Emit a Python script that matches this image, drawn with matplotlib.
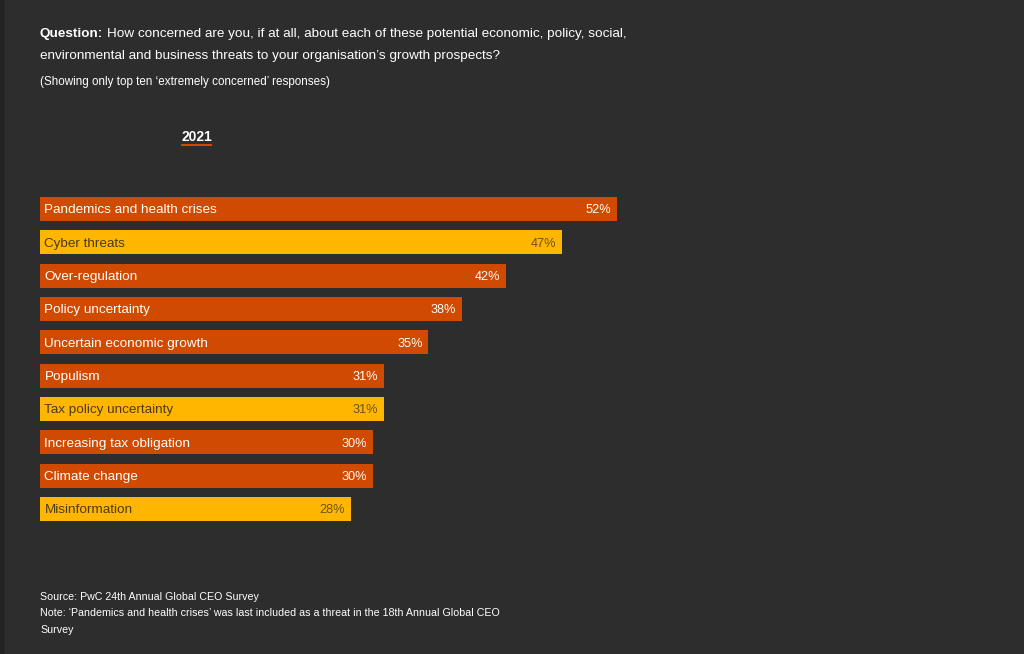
import matplotlib as mpl
import matplotlib.pyplot as plt
from matplotlib.patches import Rectangle

threats = ['Pandemics and health crises', 'Cyber threats', 'Over-regulation',
           'Policy uncertainty', 'Uncertain economic growth', 'Populism',
           'Tax policy uncertainty', 'Increasing tax obligation',
           'Climate change', 'Misinformation']
values = [52, 47, 42, 38, 35, 31, 31, 30, 30, 28]
highlight = [False, True, False, False, False, False, True, False, False, True]

bg = '#2d2d2d'
orange = '#d04a02'
yellow = '#ffb600'

plt.rcParams['font.family'] = ['Liberation Sans', 'DejaVu Sans']

fig = plt.figure(figsize=(10.24, 6.54), dpi=100, facecolor=bg)
fig.patches.append(Rectangle((0, 0), 5 / 1024, 1, transform=fig.transFigure,
                             facecolor='#242424', edgecolor='none'))

W, H = 1024, 654
ax = fig.add_axes([40 / W, (H - 521) / H, (617 - 40) / W, 324 / H])
ax.set_facecolor(bg)
ypos = list(range(len(threats)))
cols = [yellow if h else orange for h in highlight]
ax.barh(ypos, values, height=0.72, color=cols)
ax.set_xlim(0, 52)
ax.set_ylim(9.36, -0.36)
ax.axis('off')

for y, name, v, h in zip(ypos, threats, values, highlight):
    tc = '#4a3b10' if h else 'white'
    pc = '#6b5410' if h else 'white'
    ax.text(0.4, y + 0.04, name, color=tc, fontsize=9.7, va='center', ha='left')
    ax.text(v - 0.5, y + 0.04, f'{v}%', color=pc, fontsize=9.2, va='center', ha='right')

# title with bold lead
fig.canvas.draw()
r = fig.canvas.get_renderer()
t1 = fig.text(40 / W, 1 - 33.5 / H, 'Question:', color='white', fontsize=9.7,
              fontweight='bold', va='center', ha='left')
bb = t1.get_window_extent(renderer=r)
fig.text(bb.x1 / W + 4 / W, 1 - 33.5 / H,
         'How concerned are you, if at all, about each of these potential economic, policy, social,',
         color='white', fontsize=9.7, va='center', ha='left')
fig.text(40 / W, 1 - 56 / H,
         'environmental and business threats to your organisation\u2019s growth prospects?',
         color='white', fontsize=9.7, va='center', ha='left')
fig.text(40 / W, 1 - 82 / H, '(Showing only top ten \u2018extremely concerned\u2019 responses)',
         color='white', fontsize=8.4, va='center', ha='left')

# year header
fig.text(196.5 / W, 1 - 137 / H, '2021', color='white', fontsize=10,
         fontweight='bold', va='center', ha='center')
fig.lines.append(mpl.lines.Line2D([182 / W, 211 / W], [1 - 145.5 / H, 1 - 145.5 / H],
                                  transform=fig.transFigure, color=orange, lw=1.5))

notes = ['Source: PwC 24th Annual Global CEO Survey',
         'Note: \u2018Pandemics and health crises\u2019 was last included as a threat in the 18th Annual Global CEO',
         'Survey']
for i, line in enumerate(notes):
    fig.text(40 / W, 1 - (597 + 16.5 * i) / H, line, color='white', fontsize=7.7,
             va='center', ha='left')

fig.savefig('out.png', dpi=100, facecolor=bg)
